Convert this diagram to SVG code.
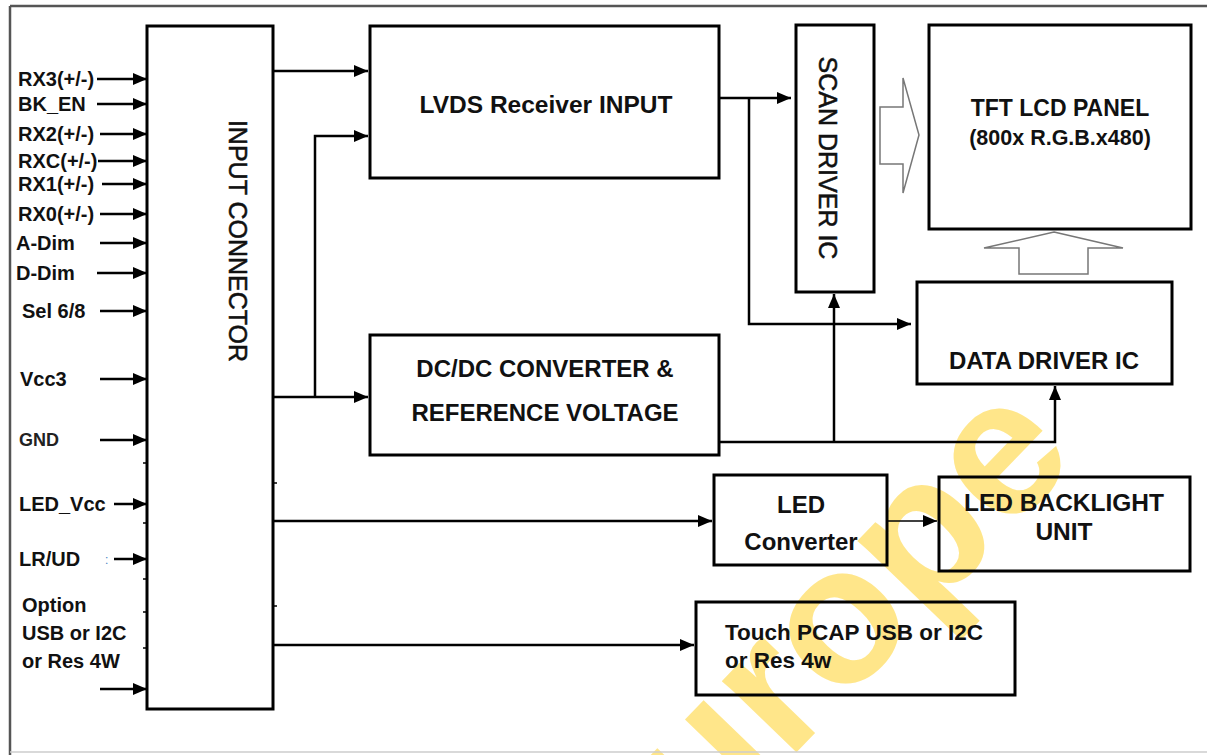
<svg xmlns="http://www.w3.org/2000/svg" width="1207" height="755" viewBox="0 0 1207 755">
<defs>
<marker id="ah" viewBox="0 0 14 12" markerWidth="14" markerHeight="12" refX="14" refY="6" orient="auto" markerUnits="userSpaceOnUse">
<path d="M0,0 L14,6 L0,12 z" fill="#000"/>
</marker>
<style>
.box{fill:none;stroke:#000;stroke-width:3}
.ln{fill:none;stroke:#000;stroke-width:2.5}
.arr{fill:none;stroke:#000;stroke-width:2.5;marker-end:url(#ah)}
.thin{fill:none;stroke:#000;stroke-width:1.6;marker-end:url(#ah)}
.hollow{fill:#fff;stroke:#777;stroke-width:1.5}
.lbl{font-family:"Liberation Sans",Arial,sans-serif;font-weight:bold;font-size:20px;fill:#111}
.t{font-family:"Liberation Sans",Arial,sans-serif;font-weight:bold;font-size:24px;fill:#111;text-anchor:middle}
.v{font-family:"Liberation Sans",Arial,sans-serif;font-size:25px;fill:#111;stroke:#111;stroke-width:0.5;text-anchor:middle}
.tick{stroke:#000;stroke-width:1.5}
</style>
</defs>
<rect width="1207" height="755" fill="#fff"/>
<!-- watermark -->
<text transform="translate(878,668) rotate(-46)" x="-380" y="0" font-family="Liberation Sans,Arial,sans-serif" font-weight="bold" font-size="195" fill="#FFE68A">Europe</text>
<!-- frame -->
<path d="M10,6 H1207" stroke="#555" stroke-width="2.5" fill="none"/>
<path d="M10,6 V755" stroke="#555" stroke-width="2.5" fill="none"/>
<path d="M10,752 H1207" stroke="#ccc" stroke-width="1.5" fill="none"/>

<g id="input-connector">
<rect class="box" x="147" y="26" width="126" height="683"/>
<text class="v" transform="translate(229,241) rotate(90)">INPUT CONNECTOR</text>
<path class="tick" d="M143,463 H147 M143,523 H147 M143,579 H147 M143,612 H147 M143,648 H147 M273,483 H277 M273,606 H277"/>
</g>

<g id="inputs">
<text class="lbl" x="18" y="86">RX3(+/-)</text>
<text class="lbl" x="18" y="111">BK_EN</text>
<text class="lbl" x="18" y="141">RX2(+/-)</text>
<text class="lbl" x="18" y="168">RXC(+/-)</text>
<text class="lbl" x="18" y="191">RX1(+/-)</text>
<text class="lbl" x="18" y="221">RX0(+/-)</text>
<text class="lbl" x="16" y="250">A-Dim</text>
<text class="lbl" x="16" y="280">D-Dim</text>
<text class="lbl" x="22" y="318">Sel 6/8</text>
<text class="lbl" x="20" y="386">Vcc3</text>
<text class="lbl" x="19" y="446" style="font-size:18px;fill:#222">GND</text>
<text class="lbl" x="19" y="511">LED_Vcc</text>
<text class="lbl" x="19" y="566">LR/UD</text>
<text x="105" y="564" font-family="Liberation Sans,Arial,sans-serif" font-size="12" fill="#4a7fc1">:</text>
<text class="lbl" x="22" y="612">Option</text>
<text class="lbl" x="22" y="640">USB or I2C</text>
<text class="lbl" x="22" y="668">or Res 4W</text>
</g>

<g id="lvds">
<rect class="box" x="370" y="26" width="349" height="152"/>
<text class="t" x="546" y="113" style="font-size:24.5px">LVDS Receiver INPUT</text>
</g>
<g id="dcdc">
<rect class="box" x="370" y="335" width="349" height="120"/>
<text class="t" x="545" y="377">DC/DC CONVERTER &amp;</text>
<text class="t" x="545" y="421">REFERENCE VOLTAGE</text>
</g>
<g id="scan-driver">
<rect class="box" x="796" y="25" width="78" height="267"/>
<text class="v" transform="translate(819,158) rotate(90)">SCAN DRIVER IC</text>
</g>
<g id="tft-panel">
<rect class="box" x="929" y="25" width="262" height="204"/>
<text class="t" x="1060" y="116" style="font-size:23px">TFT LCD PANEL</text>
<text class="t" x="1060" y="145" style="font-size:21.5px">(800x R.G.B.x480)</text>
</g>
<g id="data-driver">
<rect class="box" x="917" y="282" width="255" height="102"/>
<text class="t" x="1044" y="369">DATA DRIVER IC</text>
</g>
<g id="led-converter">
<rect class="box" x="714" y="475" width="173" height="90"/>
<text class="t" x="801" y="513">LED</text>
<text class="t" x="801" y="550">Converter</text>
</g>
<g id="led-backlight">
<rect class="box" x="939" y="477" width="251" height="94"/>
<text class="t" x="1064" y="511" style="font-size:24.5px">LED BACKLIGHT</text>
<text class="t" x="1064" y="540" style="font-size:24.5px">UNIT</text>
</g>
<g id="touch">
<rect class="box" x="696" y="602" width="319" height="93"/>
<text class="lbl" x="725" y="640" style="font-size:22.5px">Touch PCAP USB or I2C</text>
<text class="lbl" x="725" y="668" style="font-size:22.5px">or Res 4w</text>
</g>

<g id="connectors">
<line class="arr" x1="97" y1="79" x2="147" y2="79"/>
<line class="arr" x1="97" y1="104" x2="147" y2="104"/>
<line class="arr" x1="100" y1="134" x2="147" y2="134"/>
<line class="arr" x1="98" y1="161" x2="147" y2="161"/>
<line class="arr" x1="102" y1="184" x2="147" y2="184"/>
<line class="arr" x1="100" y1="214" x2="147" y2="214"/>
<line class="arr" x1="100" y1="243" x2="147" y2="243"/>
<line class="arr" x1="97" y1="273" x2="147" y2="273"/>
<line class="arr" x1="100" y1="311" x2="147" y2="311"/>
<line class="arr" x1="100" y1="379" x2="147" y2="379"/>
<line class="arr" x1="100" y1="440" x2="147" y2="440"/>
<line class="arr" x1="114" y1="504" x2="147" y2="504"/>
<line class="arr" x1="114" y1="559" x2="147" y2="559"/>
<line class="arr" x1="100" y1="689" x2="147" y2="689"/>
<line class="arr" x1="273" y1="71" x2="368" y2="71"/>
<polyline class="arr" points="315,397 315,136 368,136"/>
<line class="arr" x1="273" y1="397" x2="368" y2="397"/>
<line class="arr" x1="273" y1="521" x2="712" y2="521"/>
<line class="arr" x1="273" y1="645" x2="694" y2="645"/>
<line class="arr" x1="719" y1="98" x2="791" y2="98"/>
<polyline class="arr" points="749,98 749,324 911,324"/>
<polyline class="arr" points="719,442 1055,442 1055,386"/>
<line class="arr" x1="834" y1="442" x2="834" y2="294"/>
<line class="thin" x1="887" y1="521" x2="937" y2="521"/>
<polygon class="hollow" points="880,107 903,107 903,78 919,135 903,193 903,164 880,164"/>
<polygon class="hollow" points="1054,232 1123,248 1088,248 1088,274 1019,274 1019,248 984,248"/>
</g>
</svg>
